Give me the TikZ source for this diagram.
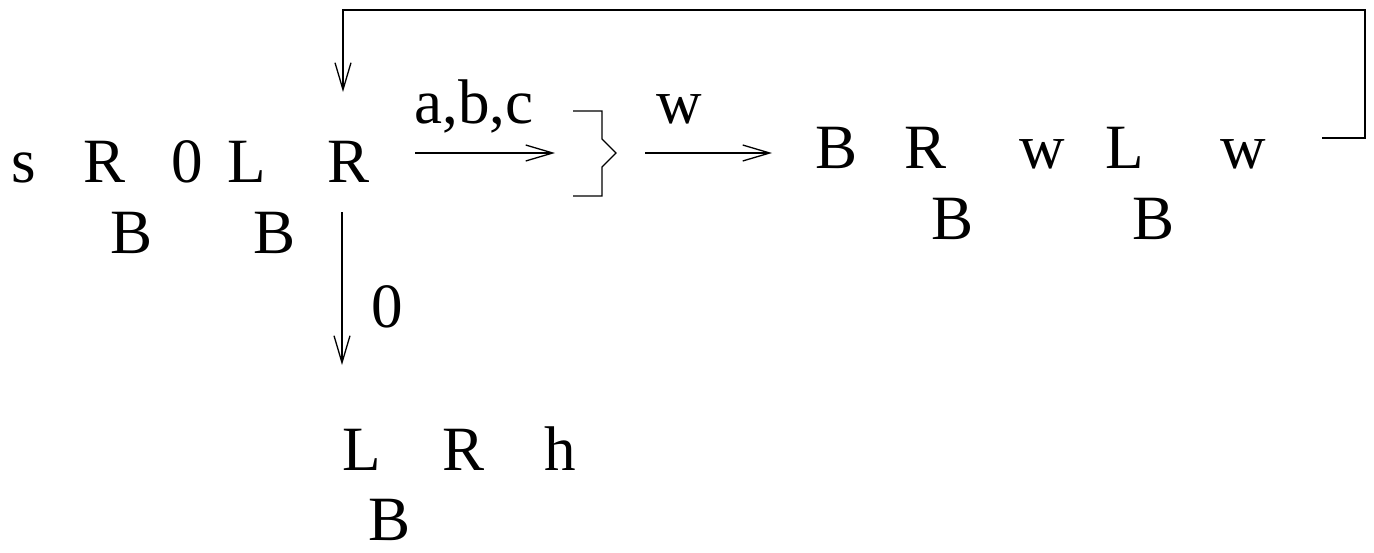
\documentclass[tikz,border=0pt]{standalone}
\usepackage{fontspec}
\setmainfont{Liberation Serif}
\usetikzlibrary{arrows.meta}

\begin{document}
\begin{tikzpicture}[x=0.02cm,y=-0.02cm,line width=0.75pt,
  sym/.style={anchor=base,inner sep=0pt,font=\fontsize{35.9}{40}\selectfont},
  arr/.style={-{Straight Barb[length=0.54cm,width=0.32cm]}}]
\useasboundingbox (0,0) rectangle (1374,552);

\node[sym] (s) at (24,182) {s};
\node[sym] (ra) at (104.5,182) {R};
\node[sym] (zero) at (187,182) {0};
\node[sym] (la) at (246.5,182) {L};
\node[sym] (rb) at (349,182) {R};
\node[sym] (ba) at (131.5,253) {B};
\node[sym] (bb) at (275,253) {B};

\node[sym] (bc) at (836.5,168) {B};
\node[sym] (rc) at (925.5,168) {R};
\node[sym] (wa) at (1042.5,168) {w};
\node[sym] (lc) at (1125,168) {L};
\node[sym] (wb) at (1243.5,168) {w};
\node[sym] (bd) at (953,239) {B};
\node[sym] (be) at (1153.5,239) {B};

\node[sym] (ld) at (361.5,470) {L};
\node[sym] (rd) at (464,470) {R};
\node[sym] (h) at (560,470) {h};
\node[sym] (bf) at (390,540) {B};

\coordinate (abcin) at (415,153);
\coordinate (abcout) at (555,153);
\coordinate (win) at (645,153);
\coordinate (wout) at (772,153);
\coordinate (loopin) at (1322,138);
\coordinate (loopout) at (343,92);
\coordinate (zin) at (342,212);
\coordinate (zout) at (342,365);

\draw[arr] (abcin) -- (abcout);
\node[sym] (abc) at (474,123) {a,b,c};
\draw (573,111) -- (602,111) -- (602,139) -- (616,153) -- (602,167) -- (602,196) -- (573,196);
\draw[arr] (win) -- (wout);
\node[sym] (wlab) at (679,123) {w};
\draw[arr] (loopin) -| (1365,10) -| (loopout);
\draw[arr] (zin) -- (zout);
\node[sym] (zlab) at (387,327) {0};
\end{tikzpicture}
\end{document}
